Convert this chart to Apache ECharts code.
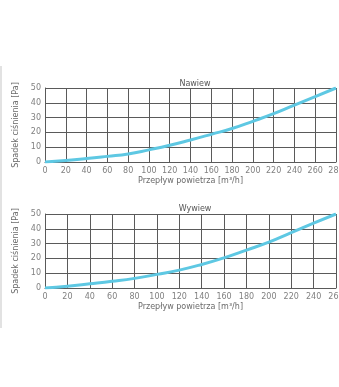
<!DOCTYPE html>
<html><head><meta charset="utf-8">
<script src="https://cdn.jsdelivr.net/npm/echarts@6/dist/echarts.min.js"></script>
<style>html,body{margin:0;padding:0;background:#fff}#c{width:339px;height:387px}</style>
</head><body><div id="c"></div>
<script>
const xNawiew = [0,20,40,60,80,100,120,140,160,180,200,220,240,260,280];
const yNawiew = [0,1,2.3,3.8,5.4,8.2,11.3,14.9,18.7,22.6,27.5,32.7,38.5,44.2,50];
const xWywiew = [0,20,40,60,80,100,120,140,160,180,200,220,240,260];
const yWywiew = [0,1.2,2.8,4.5,6.5,9.2,12.1,15.9,20.4,25.6,31,37.4,43.8,50];
const titles = ['Nawiew','Wywiew'];
const xName = 'Przepływ powietrza [m³/h]';
const yName = 'Spadek ciśnienia [Pa]';

const font = 'DejaVu Sans';
const lineColor = '#5ec8e3';
const gridColor = '#5a5a5a';
const labelColor = '#808080';

function xAxis(idx, max){
  return {type:'value', gridIndex:idx, min:0, max:max, interval:20,
    name:xName, nameLocation:'middle', nameGap:15,
    nameTextStyle:{color:'#6a6a6a', fontSize:8, fontFamily:font},
    axisLine:{show:true, lineStyle:{color:gridColor,width:1}},
    axisTick:{show:false},
    axisLabel:{color:labelColor, fontSize:8, fontFamily:font, margin:5, showMaxLabel:true},
    splitLine:{show:true, lineStyle:{color:gridColor,width:1}}};
}
function yAxis(idx){
  return {type:'value', gridIndex:idx, min:0, max:50, interval:10,
    name:yName, nameLocation:'middle', nameGap:18, nameRotate:90,
    nameTextStyle:{color:'#6a6a6a', fontSize:8, fontFamily:font},
    axisLine:{show:true, lineStyle:{color:gridColor,width:1}},
    axisTick:{show:false},
    axisLabel:{color:labelColor, fontSize:8, fontFamily:font, margin:4},
    splitLine:{show:true, lineStyle:{color:gridColor,width:1}}};
}
const chart = echarts.init(document.getElementById('c'), null, {renderer:'canvas'});
chart.setOption({
  animation:false,
  backgroundColor:'#fff',
  title:[
    {text:titles[0], left:190, top:75, textAlign:'center', textStyle:{fontSize:8, fontWeight:'normal', color:'#555', fontFamily:font}},
    {text:titles[1], left:190, top:200, textAlign:'center', textStyle:{fontSize:8, fontWeight:'normal', color:'#555', fontFamily:font}}
  ],
  grid:[
    {left:45, top:88, right:3, height:74, containLabel:false, outerBoundsMode:'none'},
    {left:45, top:214, right:3, height:74, containLabel:false, outerBoundsMode:'none'}
  ],
  xAxis:[xAxis(0,280), xAxis(1,260)],
  yAxis:[yAxis(0), yAxis(1)],
  series:[
    {type:'line', xAxisIndex:0, yAxisIndex:0, data:xNawiew.map((x,i)=>[x,yNawiew[i]]), smooth:true, symbol:'none', lineStyle:{color:lineColor,width:3}},
    {type:'line', xAxisIndex:1, yAxisIndex:1, data:xWywiew.map((x,i)=>[x,yWywiew[i]]), smooth:true, symbol:'none', lineStyle:{color:lineColor,width:3}}
  ],
  graphic:[{type:'rect', shape:{x:0,y:66,width:2,height:262}, style:{fill:'#e2e2e2'}}]
});
</script></body></html>
